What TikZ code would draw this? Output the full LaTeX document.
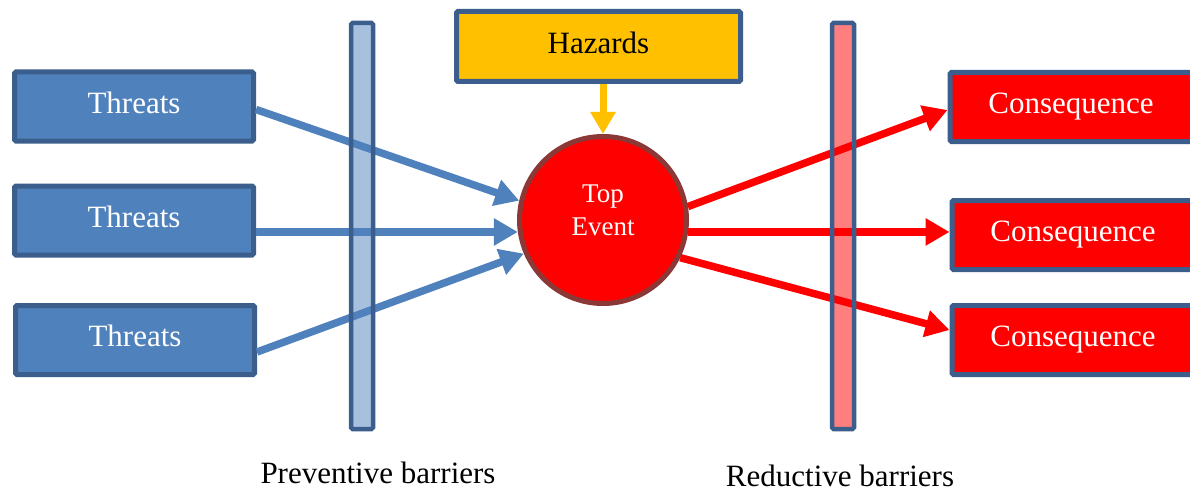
\documentclass[tikz,border=0pt]{standalone}
\usepackage{fontspec}
\setmainfont{Liberation Serif}
\usetikzlibrary{arrows.meta}
\definecolor{tblue}{HTML}{4F81BD}
\definecolor{tborder}{HTML}{3B5E8C}
\definecolor{hazfill}{HTML}{FFC000}
\definecolor{circborder}{HTML}{8C3836}
\tikzset{
  box/.style={draw=tborder, line width=5pt, rounded corners=1.5pt, inner sep=0pt, text depth=8pt},
  threatbox/.style={box, fill=tblue, text=white, minimum width=239pt, minimum height=69pt, font=\fontsize{31}{36}\selectfont},
  consbox/.style={box, fill=red, text=white, minimum width=242pt, minimum height=69pt, font=\fontsize{31}{36}\selectfont},
  hazbox/.style={box, fill=hazfill, text=black, minimum width=284pt, minimum height=70pt, font=\fontsize{31}{36}\selectfont},
  barrier/.style={draw=tborder, line width=4.5pt, rounded corners=1.5pt, minimum width=22pt, minimum height=406pt, inner sep=0pt},
  topev/.style={circle, draw=circborder, fill=red, line width=5pt, minimum size=167pt, inner sep=0pt, text=white, align=center, text depth=20pt, font=\fontsize{27}{33}\selectfont},
  bluearrow/.style={draw=tblue, line width=7.5pt, -{Triangle[length=24pt,width=26pt]}},
  redarrow/.style={draw=red, line width=7.5pt, -{Triangle[length=24pt,width=26pt]}},
  hazarrow/.style={draw=hazfill, line width=7pt, -{Triangle[length=22pt,width=24pt]}},
  caption/.style={font=\fontsize{31}{36}\selectfont, text=black}
}
\begin{document}
\begin{tikzpicture}[x=1pt,y=-1pt]
\useasboundingbox (0,0) rectangle (1190,492);
% boxes
\node[threatbox] (t1) at (134,106.5) {Threats};
\node[threatbox] (t2) at (134,220.5) {Threats};
\node[threatbox] (t3) at (135,340) {Threats};
\node[hazbox] (haz) at (598.5,46.5) {Hazards};
\node[topev] (top) at (603,220) {Top\\Event};
\node[consbox] (c1) at (1071,107) {Consequence};
\node[consbox] (c2) at (1073,235) {Consequence};
\node[consbox] (c3) at (1073,340) {Consequence};
% arrows
\draw[bluearrow] ([yshift=-3pt]t1.east) -- (top.167);
\draw[bluearrow] (t2.east |- top.188) -- (top.188);
\draw[bluearrow] ([yshift=-12pt]t3.east) -- (top.203);
\draw[redarrow] (top.9) -- ([yshift=-3pt]c1.west);
\draw[redarrow] (top.352) -- (c2.west |- top.352);
\draw[redarrow] (top.334) -- ([yshift=10pt]c3.west);
\draw[hazarrow] (haz.south -| top.north) -- (top.north);
% barriers
\node[barrier, fill=tblue, fill opacity=0.5, draw opacity=1] (pb) at (362,226) {};
\node[barrier, fill=red, fill opacity=0.5, draw opacity=1] (rb) at (843,226) {};
% captions
\node[caption] (pbl) at (378,473) {Preventive barriers};
\node[caption] (rbl) at (840,476) {Reductive barriers};
\end{tikzpicture}
\end{document}
